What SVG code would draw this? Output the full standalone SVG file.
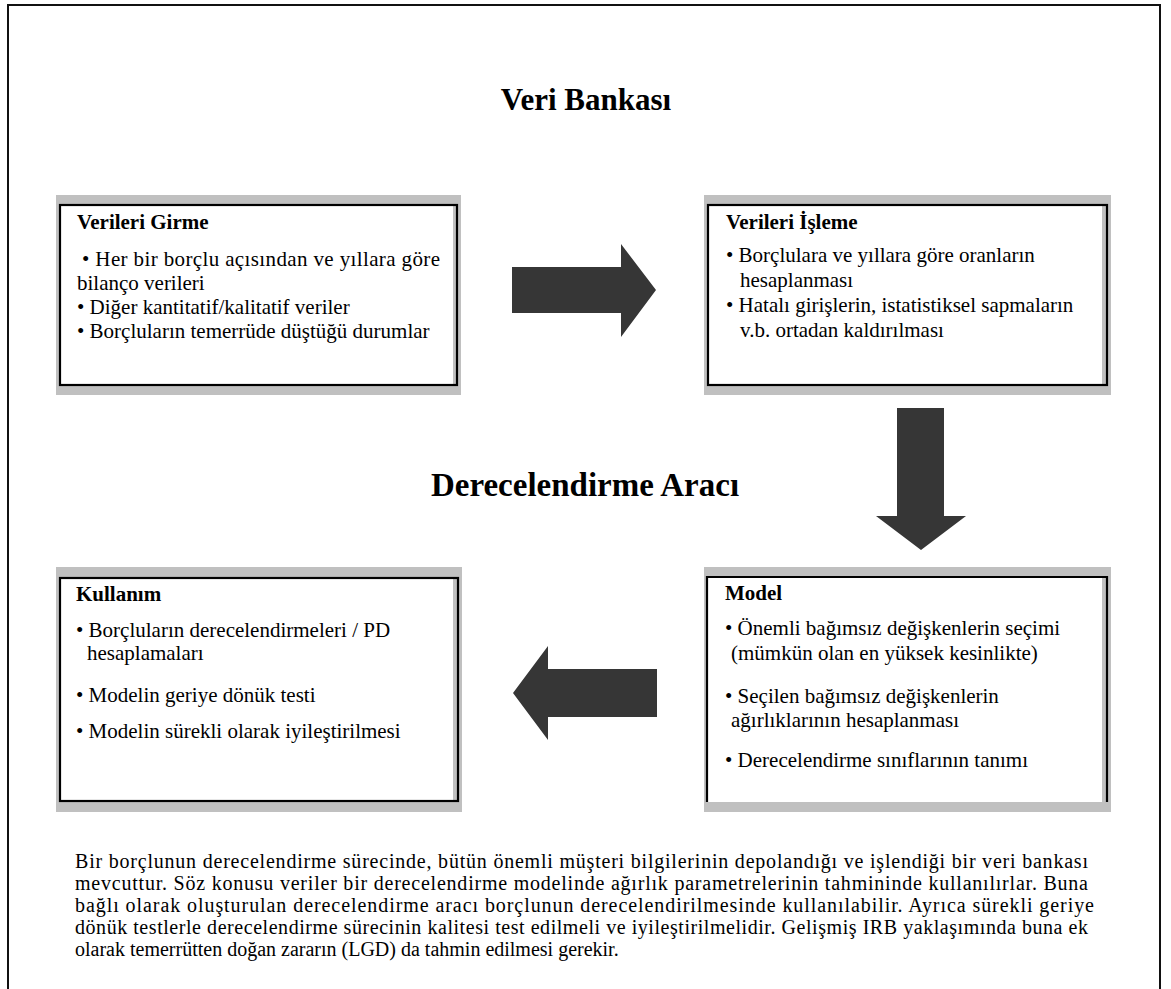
<svg xmlns="http://www.w3.org/2000/svg" width="1171" height="989" viewBox="0 0 1171 989">
<style>
  text { font-family: "Liberation Serif", "Times New Roman", serif; fill: #000; }
  .title { font-size: 31px; font-weight: bold; }
  .title2 { font-size: 33px; font-weight: bold; }
  .head { font-size: 21px; font-weight: bold; }
  .body { font-size: 21px; }
  .para { font-size: 20px; }
  .shade { fill: #c0c0c0; }
  .inner { fill: #ffffff; }
  .edge { fill: none; stroke: #000; stroke-width: 2.2; }
  .arrow { fill: #363636; }
</style>
<rect x="0" y="0" width="1171" height="989" fill="#ffffff"/>
<rect x="8" y="5" width="1152" height="1000" fill="none" stroke="#111" stroke-width="2"/>

<text class="title" x="586" y="110" text-anchor="middle">Veri Bankası</text>
<text class="title2" x="585" y="496" text-anchor="middle">Derecelendirme Aracı</text>

<g id="verileri-girme">
  <rect class="shade" x="56" y="195" width="405" height="200"/>
  <rect class="inner" x="60" y="205" width="393" height="180"/>
  <rect class="edge" x="60" y="205" width="397" height="180"/>
  <text class="head" x="77" y="229">Verileri Girme</text>
  <text class="body" x="82" y="266" textLength="358" lengthAdjust="spacing">• Her bir borçlu açısından ve yıllara göre</text>
  <text class="body" x="77" y="290">bilanço verileri</text>
  <text class="body" x="77" y="314">• Diğer kantitatif/kalitatif veriler</text>
  <text class="body" x="77" y="338">• Borçluların temerrüde düştüğü durumlar</text>
</g>

<g id="verileri-isleme">
  <rect class="shade" x="704" y="195" width="407" height="200"/>
  <rect class="inner" x="708" y="205" width="394" height="180"/>
  <rect class="edge" x="708" y="205" width="399" height="180"/>
  <text class="head" x="726" y="229">Verileri İşleme</text>
  <text class="body" x="726" y="262">• Borçlulara ve yıllara göre oranların</text>
  <text class="body" x="740" y="287">hesaplanması</text>
  <text class="body" x="726" y="312">• Hatalı girişlerin, istatistiksel sapmaların</text>
  <text class="body" x="740" y="337">v.b. ortadan kaldırılması</text>
</g>

<g id="model">
  <rect class="shade" x="704" y="567" width="407" height="245"/>
  <rect class="inner" x="707" y="577" width="395" height="225"/>
  <path class="edge" d="M707,802 V577 H1107 V802"/>
  <text class="head" x="725" y="600">Model</text>
  <text class="body" x="725" y="635">• Önemli bağımsız değişkenlerin seçimi</text>
  <text class="body" x="731" y="660">(mümkün olan en yüksek kesinlikte)</text>
  <text class="body" x="725" y="703">• Seçilen bağımsız değişkenlerin</text>
  <text class="body" x="731" y="727">ağırlıklarının hesaplanması</text>
  <text class="body" x="725" y="767">• Derecelendirme sınıflarının tanımı</text>
</g>

<g id="kullanim">
  <rect class="shade" x="56" y="567" width="406" height="245"/>
  <rect class="inner" x="60" y="578" width="393" height="223"/>
  <rect class="edge" x="60" y="578" width="398" height="223"/>
  <text class="head" x="76" y="601">Kullanım</text>
  <text class="body" x="76" y="637">• Borçluların derecelendirmeleri / PD</text>
  <text class="body" x="87" y="660">hesaplamaları</text>
  <text class="body" x="76" y="702">• Modelin geriye dönük testi</text>
  <text class="body" x="76" y="738">• Modelin sürekli olarak iyileştirilmesi</text>
</g>

<g id="connectors">
  <path class="arrow" d="M512,267 H621 V244 L656,290 L621,337 V313 H512 Z"/>
  <path class="arrow" d="M897,408 H944 V516 H966 L921,550 L876,516 H897 Z"/>
  <path class="arrow" d="M657,669 V717 H548 V740 L513,693 L548,646 V669 Z"/>
</g>

<g id="aciklama">
  <text class="para" x="75" y="868" textLength="1013" lengthAdjust="spacing">Bir borçlunun derecelendirme sürecinde, bütün önemli müşteri bilgilerinin depolandığı ve işlendiği bir veri bankası</text>
  <text class="para" x="75" y="890" textLength="1013" lengthAdjust="spacing">mevcuttur. Söz konusu veriler bir derecelendirme modelinde ağırlık parametrelerinin tahmininde kullanılırlar. Buna</text>
  <text class="para" x="75" y="912" textLength="1019" lengthAdjust="spacing">bağlı olarak oluşturulan derecelendirme aracı borçlunun derecelendirilmesinde  kullanılabilir. Ayrıca sürekli geriye</text>
  <text class="para" x="75" y="934" textLength="1013" lengthAdjust="spacing">dönük testlerle derecelendirme sürecinin kalitesi test edilmeli ve iyileştirilmelidir. Gelişmiş IRB yaklaşımında buna ek</text>
  <text class="para" x="75" y="956">olarak temerrütten doğan zararın (LGD) da tahmin edilmesi gerekir.</text>
</g>
</svg>
